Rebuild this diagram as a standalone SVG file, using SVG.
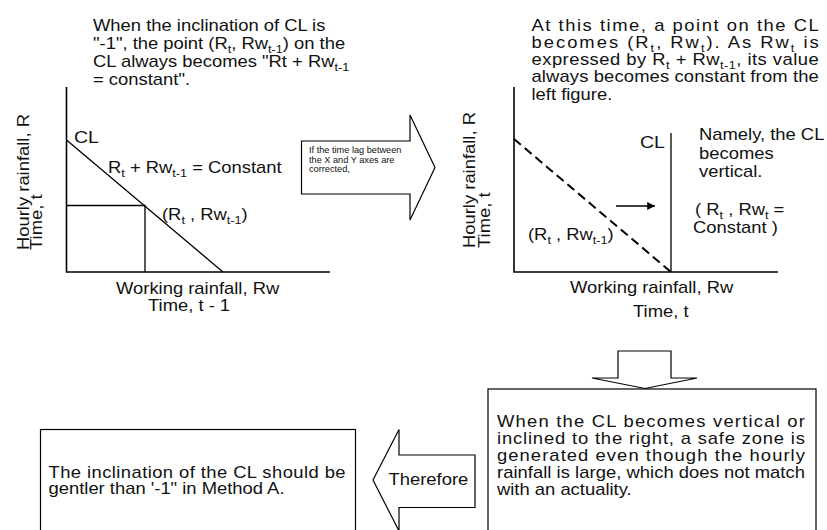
<svg xmlns="http://www.w3.org/2000/svg" width="827" height="530" viewBox="0 0 827 530">
<style>
.t{font-family:"Liberation Sans",Arial,Helvetica,sans-serif;font-size:16px;fill:#111}
.s{font-size:11px}
.sm{font-family:"Liberation Sans",Arial,Helvetica,sans-serif;font-size:9.2px;fill:#111}
.ln{stroke:#000;fill:none;stroke-width:1.3}
.ax{stroke:#000;fill:none;stroke-width:1.6}
.blk{stroke:#000;fill:#fff;stroke-width:1.2;stroke-linejoin:miter}
</style>
<defs>
<marker id="ah" viewBox="0 0 10 10" refX="10" refY="5" markerWidth="10" markerHeight="6" orient="auto" markerUnits="strokeWidth"><path d="M0,0 L10,5 L0,10 z" fill="#000"/></marker>
</defs>
<rect width="827" height="530" fill="#fff"/>

<g id="left-note">
<text class="t" transform="translate(93,31) scale(1.15,1)">When the inclination of CL is</text>
<text class="t" transform="translate(93,49) scale(1.15,1)">"-1", the point (R<tspan class="s" dy="4">t</tspan><tspan dy="-4">, Rw</tspan><tspan class="s" dy="4">t-1</tspan><tspan dy="-4">) on the</tspan></text>
<text class="t" transform="translate(93,67) scale(1.15,1)">CL always becomes "Rt + Rw<tspan class="s" dy="4">t-1</tspan></text>
<text class="t" transform="translate(93,85) scale(1.15,1)">= constant".</text>
</g>

<g id="left-graph">
<path class="ax" d="M66.5,87 V272 H330"/>
<path class="ln" d="M66.5,140 L223,272"/>
<path class="ln" d="M66.5,205.5 H145 V272"/>
<text class="t" transform="translate(74,142.5) scale(1.15,1)" style="font-size:17px">CL</text>
<text class="t" transform="translate(108,173) scale(1.15,1)">R<tspan class="s" dy="4">t</tspan><tspan dy="-4"> + Rw</tspan><tspan class="s" dy="4">t-1</tspan><tspan dy="-4"> = Constant</tspan></text>
<text class="t" transform="translate(162,220) scale(1.15,1)">(R<tspan class="s" dy="4">t</tspan><tspan dy="-4"> , Rw</tspan><tspan class="s" dy="4">t-1</tspan><tspan dy="-4">)</tspan></text>
<text class="t" transform="translate(116,294) scale(1.15,1)">Working rainfall, Rw</text>
<text class="t" transform="translate(148,311) scale(1.15,1)">Time, t - 1</text>
<text class="t" transform="translate(28.5,250) rotate(-90) scale(1.15,1)">Hourly rainfall, R</text>
<text class="t" transform="translate(42,250) rotate(-90) scale(1.15,1)">Time, t</text>
</g>

<g id="right-note">
<text class="t" transform="translate(531.5,31) scale(1.15,1)" textLength="249.8" lengthAdjust="spacing">At this time, a point on the CL</text>
<text class="t" transform="translate(531.5,48) scale(1.15,1)" textLength="249.8" lengthAdjust="spacing">becomes (R<tspan class="s" dy="4">t</tspan><tspan dy="-4">, Rw</tspan><tspan class="s" dy="4">t</tspan><tspan dy="-4">). As Rw</tspan><tspan class="s" dy="4">t</tspan><tspan dy="-4"> is</tspan></text>
<text class="t" transform="translate(531.5,65) scale(1.15,1)" textLength="249.8" lengthAdjust="spacing">expressed by R<tspan class="s" dy="4">t</tspan><tspan dy="-4"> + Rw</tspan><tspan class="s" dy="4">t-1</tspan><tspan dy="-4">, its value</tspan></text>
<text class="t" transform="translate(531.5,82) scale(1.15,1)" textLength="249.8" lengthAdjust="spacing">always becomes constant from the</text>
<text class="t" transform="translate(531.5,99.5) scale(1.15,1)">left figure.</text>
</g>

<g id="right-graph">
<path class="ax" d="M514,87 V272 H778"/>
<path d="M514,139 L671,272" stroke="#000" stroke-width="2" stroke-dasharray="9,5" fill="none"/>
<path class="ln" d="M671,133 V272"/>
<path d="M616,206 H655" stroke="#000" stroke-width="1.3" marker-end="url(#ah)"/>
<text class="t" transform="translate(640,148) scale(1.15,1)" style="font-size:17px">CL</text>
<text class="t" transform="translate(699,140) scale(1.15,1)">Namely, the CL</text>
<text class="t" transform="translate(699,158.5) scale(1.15,1)">becomes</text>
<text class="t" transform="translate(699,177) scale(1.15,1)">vertical.</text>
<text class="t" transform="translate(695,215) scale(1.15,1)">( R<tspan class="s" dy="4">t</tspan><tspan dy="-4"> , Rw</tspan><tspan class="s" dy="4">t</tspan><tspan dy="-4"> =</tspan></text>
<text class="t" transform="translate(693,233) scale(1.15,1)">Constant )</text>
<text class="t" transform="translate(528,240) scale(1.15,1)">(R<tspan class="s" dy="4">t</tspan><tspan dy="-4"> , Rw</tspan><tspan class="s" dy="4">t-1</tspan><tspan dy="-4">)</tspan></text>
<text class="t" transform="translate(570,293) scale(1.15,1)">Working rainfall, Rw</text>
<text class="t" transform="translate(633,317) scale(1.15,1)">Time, t</text>
<text class="t" transform="translate(475,248) rotate(-90) scale(1.15,1)">Hourly rainfall, R</text>
<text class="t" transform="translate(490,248) rotate(-90) scale(1.15,1)">Time, t</text>
</g>

<g id="connectors">
<g id="arrow-correct">
<path class="blk" d="M301.5,141 H410 V115 L435,167.5 L410,220 V194 H301.5 Z"/>
<text class="sm" x="309" y="153">If the time lag between</text>
<text class="sm" x="309" y="162.5">the X and Y axes are</text>
<text class="sm" x="309" y="172.3">corrected,</text>
</g>
<g id="arrow-down">
<path class="blk" d="M618,351 H671 V378 H697 L645,388.5 L592,378 H618 Z"/>
</g>
<g id="arrow-therefore">
<path class="blk" d="M475,455 V507.5 H399 V531 L373,480 L399,429.5 V455 Z"/>
<text class="t" transform="translate(388.5,485) scale(1.15,1)">Therefore</text>
</g>
</g>

<g id="box-right">
<rect class="blk" x="488" y="389" width="328" height="150"/>
<text class="t" transform="translate(497,427) scale(1.15,1)" textLength="267.8" lengthAdjust="spacing">When the CL becomes vertical or</text>
<text class="t" transform="translate(497,444) scale(1.15,1)" textLength="267.8" lengthAdjust="spacing">inclined to the right, a safe zone is</text>
<text class="t" transform="translate(497,461) scale(1.15,1)" textLength="267.8" lengthAdjust="spacing">generated even though the hourly</text>
<text class="t" transform="translate(497,478) scale(1.15,1)" textLength="267.8" lengthAdjust="spacing">rainfall is large, which does not match</text>
<text class="t" transform="translate(497,495) scale(1.15,1)">with an actuality.</text>
</g>

<g id="box-left">
<rect class="blk" x="40.5" y="429.5" width="315" height="110"/>
<text class="t" transform="translate(48.5,477.5) scale(1.15,1)" textLength="258.3" lengthAdjust="spacing">The inclination of the CL should be</text>
<text class="t" transform="translate(48.5,493.5) scale(1.15,1)">gentler than '-1" in Method A.</text>
</g>
</svg>
